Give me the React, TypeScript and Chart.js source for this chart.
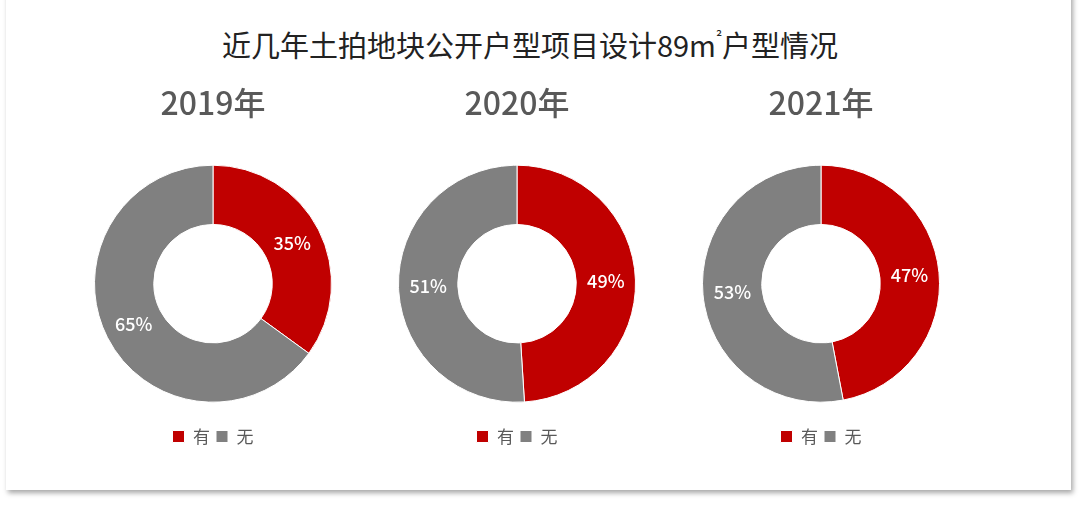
import React, { useEffect, useRef } from "react";
import { Chart, registerables } from "chart.js";

Chart.register(...registerables);

const mainTitleStart = "近几年土拍地块公开户型项目设计89m";
const mainTitleSup = "²";
const mainTitleEnd = "户型情况";
const years = ["2019年", "2020年", "2021年"];
const categories = ["有", "无"];
const haveValues = [35, 49, 47];
const noneValues = [65, 51, 53];
const colors = ["#C00000", "#808080"];
const centersX = [213, 517, 821];

const FONT = "'Noto Sans CJK SC', 'Noto Sans', sans-serif";
const W = 238;

const dataLabelPlugin = {
  id: "dataLabels",
  afterDatasetsDraw(chart: any) {
    const { ctx } = chart;
    const meta = chart.getDatasetMeta(0);
    const ds = chart.data.datasets[0];
    ctx.save();
    ctx.fillStyle = "#ffffff";
    ctx.font = `500 18px ${FONT}`;
    ctx.textAlign = "center";
    ctx.textBaseline = "middle";
    meta.data.forEach((arc: any, i: number) => {
      const p = arc.tooltipPosition();
      ctx.fillText(ds.data[i] + "%", p.x, p.y);
    });
    ctx.restore();
  },
};

function Donut({ idx }: { idx: number }) {
  const ref = useRef<HTMLCanvasElement | null>(null);
  useEffect(() => {
    if (!ref.current) return;
    const chart = new Chart(ref.current, {
      type: "doughnut",
      data: {
        labels: categories,
        datasets: [
          {
            data: [haveValues[idx], noneValues[idx]],
            backgroundColor: colors,
            borderColor: "#ffffff",
            borderWidth: 1,
          },
        ],
      },
      options: {
        responsive: false,
        animation: false,
        cutout: "50%",
        layout: { padding: 0 },
        plugins: {
          title: {
            display: true,
            text: years[idx],
            color: "#595959",
            font: { family: FONT, size: 32, weight: "500" },
            padding: { top: 14, bottom: 23 },
          },
          legend: {
            display: true,
            position: "bottom",
            labels: {
              color: "#595959",
              font: { family: FONT, size: 17 },
              boxWidth: 12,
              boxHeight: 12,
              padding: 6,
            },
          },
          tooltip: { enabled: false },
        },
      },
      plugins: [dataLabelPlugin],
    });
    return () => chart.destroy();
  }, [idx]);
  return (
    <canvas
      ref={ref}
      width={W}
      height={385}
      style={{ position: "absolute", left: centersX[idx] - W / 2, top: 70, width: W, height: 385 }}
    />
  );
}

export default function App() {
  return (
    <div
      style={{
        position: "fixed",
        left: 0,
        top: 0,
        width: 1080,
        height: 505,
        background: "#ffffff",
        overflow: "hidden",
      }}
    >
      <div
        style={{
          position: "absolute",
          left: 6,
          top: -10,
          width: 1065,
          height: 500,
          background: "#ffffff",
          boxShadow: "2px 3px 5px rgba(0,0,0,0.35)",
        }}
      />
      <div
        style={{
          position: "absolute",
          left: 0,
          top: 24,
          width: 1060,
          textAlign: "center",
          fontFamily: FONT,
          fontSize: 29,
          lineHeight: "40px",
          color: "#222222",
        }}
      >
        {mainTitleStart}
        <span style={{ fontSize: 15, verticalAlign: "top", lineHeight: "26px" }}>{mainTitleSup}</span>
        {mainTitleEnd}
      </div>
      {years.map((_, i) => (
        <Donut key={i} idx={i} />
      ))}
    </div>
  );
}
